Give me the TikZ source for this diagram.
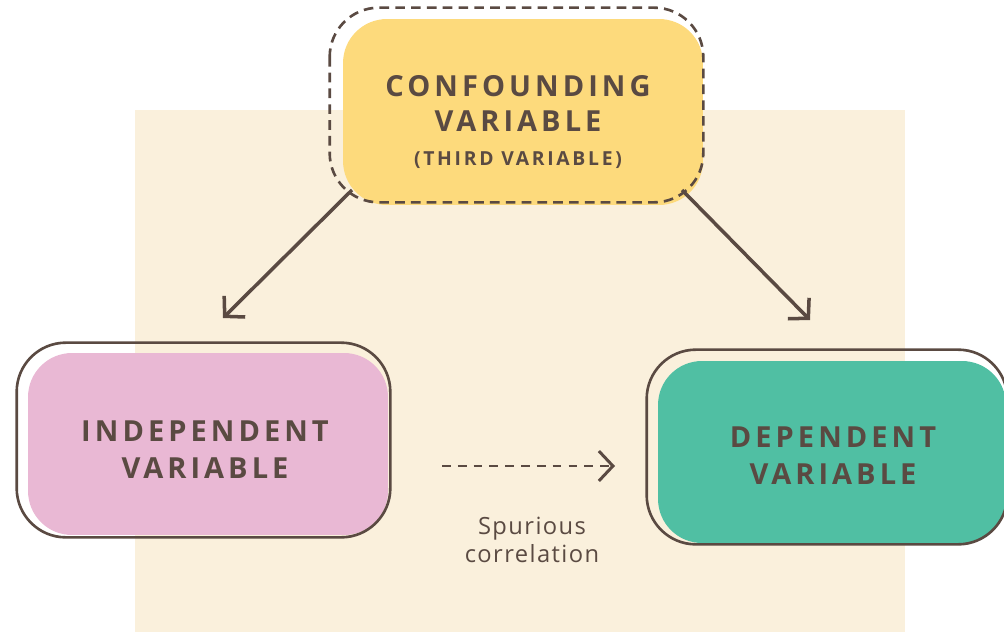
\documentclass[tikz,border=0pt]{standalone}
\usepackage{fontspec}
\setmainfont{Open Sans}
\newfontfamily\capsfont[LetterSpace=14]{Open Sans}
\newfontfamily\notefont[LetterSpace=6]{Open Sans}
\usetikzlibrary{arrows.meta,positioning}

\definecolor{cream}{HTML}{FAF0DC}
\definecolor{ink}{HTML}{5A4A42}
\definecolor{sun}{HTML}{FDDA7C}
\definecolor{rose}{HTML}{E9B8D4}
\definecolor{mint}{HTML}{50BFA3}

\tikzset{
  varbox/.style={rounded corners=25pt, inner sep=0pt},
  title/.style={align=center, text=ink, inner sep=0pt,
    font=\capsfont\bfseries\fontsize{16.5}{21}\selectfont},
  rim/.style={draw=ink, line width=1.5pt, rounded corners=28pt},
  link/.style={draw=ink, line width=2pt, line join=miter,
    -{Straight Barb[length=8pt,width=17pt]}},
}

\begin{document}
\begin{tikzpicture}[x=0.02cm, y=-0.02cm]
    \def \W {1004}
    \def \H {632}
    \useasboundingbox (0,0) rectangle (\W,\H);
    \clip (0,0) rectangle (\W,\H);

    % backdrop
    \fill[cream] (135,110) rectangle (905,\H+10);

    % the three variables
    \node[varbox, fill=sun, minimum width=7.2cm, minimum height=3.72cm] (conf) at (523,112) {};
    \node[varbox, fill=rose, minimum width=7.2cm, minimum height=3.64cm] (indep) at (208,444) {};
    \node[varbox, fill=mint, minimum width=6.96cm, minimum height=3.64cm] (dep) at (832,452) {};

    \node[title] (confT) at (518,122)
      {CONFOUNDING\\[-1pt] VARIABLE\\[-2pt] {\fontsize{11}{20}\selectfont (THIRD VARIABLE)}};
    \node[title] (indepT) at (205,450) {INDEPENDENT\\ VARIABLE};
    \node[title] (depT) at (833,456) {DEPENDENT\\ VARIABLE};

    % offset outlines
    \draw[rim, dashed, dash pattern=on 5.5pt off 3.5pt]
      ([shift={(-13,-11)}]conf.north west) rectangle ([shift={(0,-3)}]conf.south east);
    \draw[rim] ([shift={(-11,-10)}]indep.north west) rectangle ([shift={(2,2)}]indep.south east);
    \draw[rim] ([shift={(-11,-11)}]dep.north west) rectangle ([shift={(1,1)}]dep.south east);

    % arrows
    \coordinate (confL) at (352,190);
    \coordinate (confR) at (682,190);
    \coordinate (indepA) at (223,318);
    \coordinate (depA) at (810,320);
    \coordinate (spurA) at (442,466);
    \coordinate (spurB) at (615,466);

    \draw[link] (confL) -- (indepA);
    \draw[link] (confR) -- (depA);
    \draw[link, line width=1.7pt, dash pattern=on 5pt off 4pt] (spurA) -- (spurB);

    \node[text=ink, align=center, font=\notefont\fontsize{13.5}{16}\selectfont] (spur) at (532,540)
      {Spurious\\ correlation};
\end{tikzpicture}
\end{document}
